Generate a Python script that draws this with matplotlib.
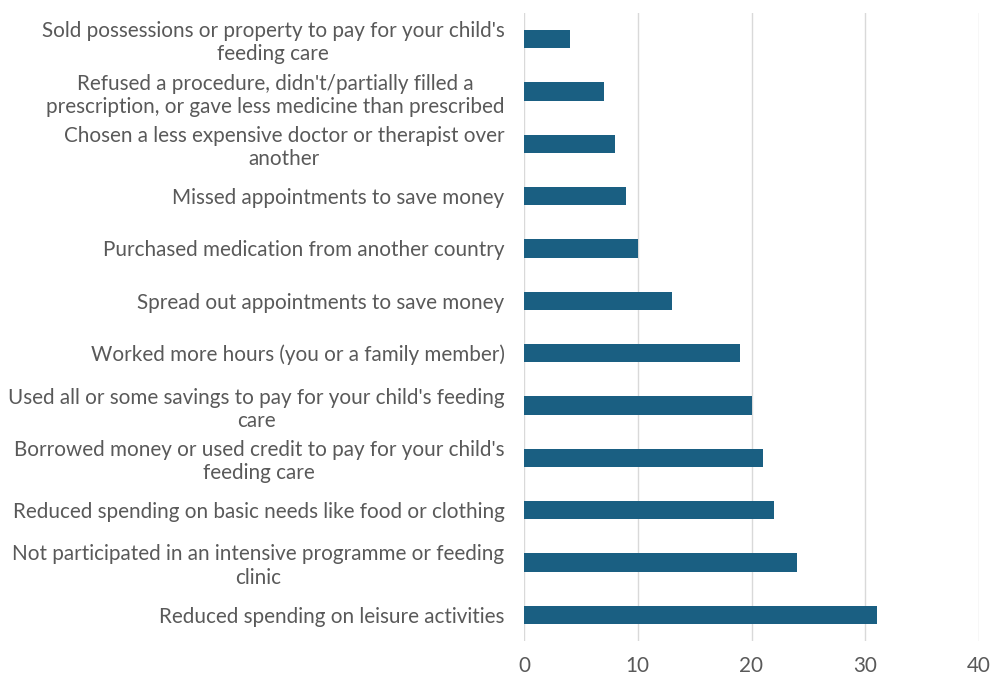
import matplotlib.pyplot as plt

# categories listed bottom -> top
categories = [
    "Reduced spending on leisure activities",
    "Not participated in an intensive programme or feeding\nclinic",
    "Reduced spending on basic needs like food or clothing",
    "Borrowed money or used credit to pay for your child's\nfeeding care",
    "Used all or some savings to pay for your child's feeding\ncare",
    "Worked more hours (you or a family member)",
    "Spread out appointments to save money",
    "Purchased medication from another country",
    "Missed appointments to save money",
    "Chosen a less expensive doctor or therapist over\nanother",
    "Refused a procedure, didn't/partially filled a\nprescription, or gave less medicine than prescribed",
    "Sold possessions or property to pay for your child's\nfeeding care",
]
values = [31, 24, 22, 21, 20, 19, 13, 10, 9, 8, 7, 4]
xticks = [0, 10, 20, 30, 40]

plt.rcParams['font.family'] = ['Lato', 'DejaVu Sans']
text_col = '#595959'

fig = plt.figure(figsize=(9.91, 6.78), dpi=100)
ax = fig.add_axes([524 / 991, 1 - 641 / 678, (979 - 524) / 991, 628 / 678])

ypos = list(range(len(categories)))
ax.barh(ypos, values, height=0.35, color='#1a5f82', zorder=3)

ax.set_xlim(0, 40)
ax.set_ylim(-0.5, len(categories) - 0.5)
ax.set_xticks(xticks)
ax.set_yticks(ypos)
ax.set_yticklabels(categories, multialignment='center', linespacing=1.2)
ax.tick_params(axis='both', length=0, labelsize=14.9, colors=text_col)
ax.tick_params(axis='y', pad=14)
ax.tick_params(axis='x', pad=11)
ax.grid(axis='x', color='#d9d9d9', linewidth=1, zorder=0)
for s in ax.spines.values():
    s.set_visible(False)

fig.savefig('out.png', dpi=100)
